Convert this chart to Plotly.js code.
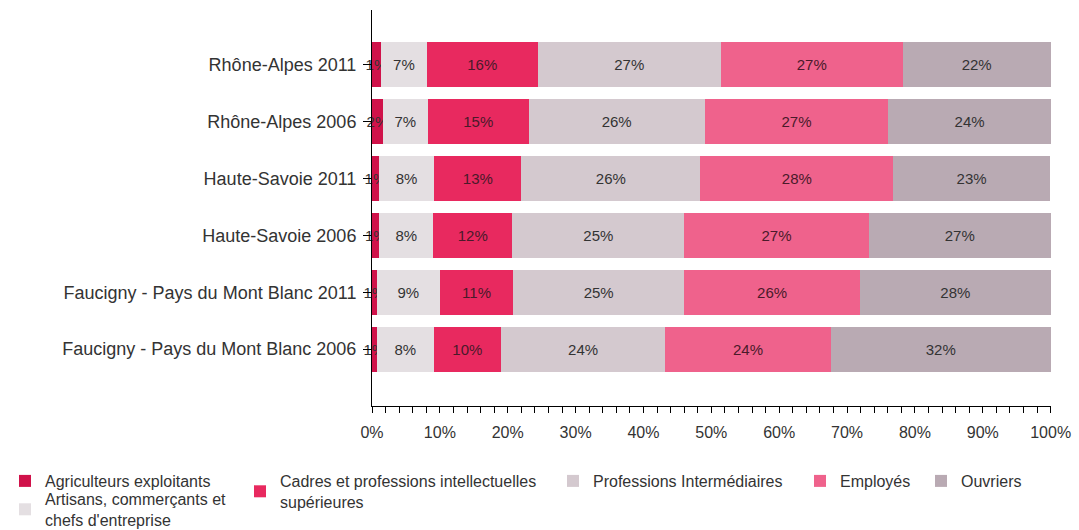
<!DOCTYPE html>
<html>
<head>
<meta charset="utf-8">
<script src="https://cdn.plot.ly/plotly-3.0.1.min.js"></script>
<style>
html,body{margin:0;padding:0;background:#fff;}
#chart{width:1079px;height:530px;}
</style>
</head>
<body>
<div id="chart"></div>
<script>
// Territories, bottom to top
const territories = [
  "Faucigny - Pays du Mont Blanc 2006",
  "Faucigny - Pays du Mont Blanc 2011",
  "Haute-Savoie 2006",
  "Haute-Savoie 2011",
  "Rhône-Alpes 2006",
  "Rhône-Alpes 2011"
];
const seriesNames = [
  "Agriculteurs exploitants",
  "Artisans, commerçants et<br>chefs d'entreprise",
  "Cadres et professions intellectuelles<br>supérieures",
  "Professions Intermédiaires",
  "Employés",
  "Ouvriers"
];
// shares in %, same order as territories
const agriculteurs = [0.7, 0.7, 1.1, 1.0, 1.6, 1.3];
const artisans     = [8.4, 9.3, 7.9, 8.2, 6.6, 6.8];
const cadres       = [9.9, 10.8, 11.7, 12.8, 14.9, 16.3];
const profInter    = [24.2, 25.2, 25.3, 26.4, 25.9, 27.0];
const employes     = [24.4, 25.9, 27.2, 28.4, 27.1, 26.8];
const ouvriers     = [32.4, 28.1, 26.8, 23.1, 23.9, 21.8];
const xTicks = [0,10,20,30,40,50,60,70,80,90,100];

const values = [agriculteurs, artisans, cadres, profInter, employes, ouvriers];
const colors = ["#d0124a", "#e4dfe2", "#e8295f", "#d4c9cf", "#ef628c", "#b9aab3"];
const textColors = ["#333333", "#333333", "#4a1a2a", "#333333", "#4a1a2a", "#333333"];
const legendIds = ["legend", "legend6", "legend2", "legend3", "legend4", "legend5"];

const FONT = "Liberation Sans, Arial, sans-serif";

const traces = values.map((v, i) => ({
  type: "bar",
  orientation: "h",
  name: seriesNames[i],
  y: territories,
  x: v,
  marker: {color: colors[i], line: {width: 0}},
  text: v.map(d => Math.round(d) + "%"),
  texttemplate: "%{text}",
  textposition: "inside",
  insidetextanchor: "middle",
  textangle: 0,
  constraintext: "none",
  cliponaxis: false,
  textfont: {family: FONT, size: 15, color: textColors[i]},
  legend: legendIds[i],
  hoverinfo: "skip"
}));

function leg(xpx, toppx) {
  return {
    orientation: "v",
    xref: "container", yref: "container",
    x: xpx / 1079, xanchor: "left",
    y: 1 - toppx / 530, yanchor: "top",
    font: {family: FONT, size: 16, color: "#333"},
    tracegroupgap: 0,
    traceorder: "normal",
    itemwidth: 30,
    bgcolor: "rgba(0,0,0,0)"
  };
}

const layout = {
  width: 1079, height: 530,
  barmode: "stack",
  bargap: 0.21,
  paper_bgcolor: "#ffffff",
  plot_bgcolor: "#ffffff",
  margin: {l: 372, r: 28, t: 10, b: 124, autoexpand: false},
  font: {family: FONT, color: "#333333"},
  showlegend: true,
  xaxis: {
    range: [0, 100.05],
    tickvals: xTicks,
    ticktext: xTicks.map(t => t + "%"),
    ticks: "outside", ticklen: 6, tickcolor: "#000",
    minor: {dtick: 2, ticks: "outside", ticklen: 6, tickcolor: "#000"},
    showline: true, linecolor: "#000", linewidth: 1,
    showgrid: false, zeroline: false,
    tickfont: {family: FONT, size: 16, color: "#333"},
    ticklabelstandoff: 6,
    automargin: false,
    fixedrange: true
  },
  yaxis: {
    type: "category",
    categoryorder: "array",
    categoryarray: territories,
    range: [-1.0, 5.96],
    ticks: "outside", ticklen: 8, tickcolor: "#000",
    showline: true, linecolor: "#000", linewidth: 1,
    showgrid: false, zeroline: false,
    tickfont: {family: FONT, size: 18, color: "#333"},
    ticklabelstandoff: 3,
    automargin: false,
    fixedrange: true
  },
  legend: leg(5, 464),
  legend6: leg(5, 482),
  legend2: leg(240, 464),
  legend3: leg(553, 464),
  legend4: leg(800, 464),
  legend5: leg(921, 464)
};

Plotly.newPlot("chart", traces, layout, {displayModeBar: false, staticPlot: true});
</script>
</body>
</html>
